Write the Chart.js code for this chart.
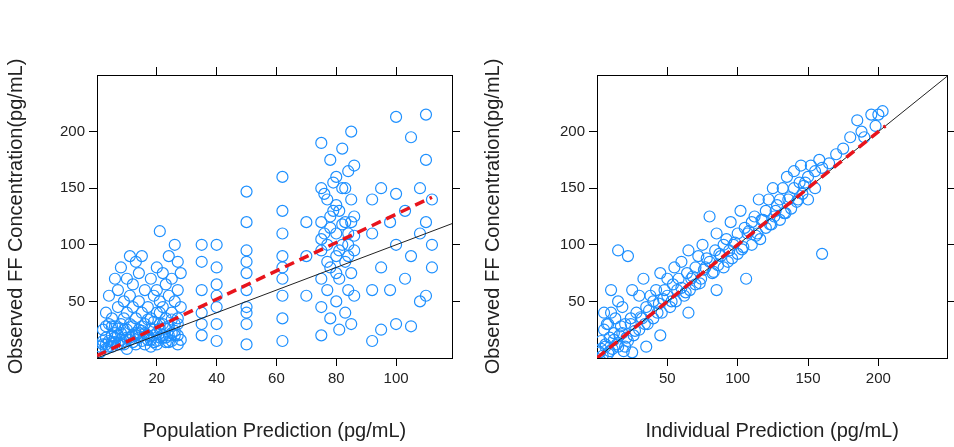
<!DOCTYPE html>
<html>
<head>
<script src="https://cdn.jsdelivr.net/npm/chart.js@4"></script>
<style>
  body { margin: 0; background: #fff; }
  .wrap { display: flex; width: 954px; height: 447px; }
  .box { width: 477px; height: 447px; position: relative; }
</style>
</head>
<body>
<div class="wrap">
  <div class="box"><canvas id="popChart"></canvas></div>
  <div class="box"><canvas id="indChart"></canvas></div>
</div>
<script>
// left panel: population prediction vs observed
const popPred = [1,2,2,3,3,4,4,5,5,5,6,6,6,7,7,7,8,8,8,9,9,9,10,10,10,10,
  11,11,11,12,12,12,13,13,13,14,14,14,15,15,15,16,16,17,17,18,18,18,
  19,19,20,20,20,20,21,21,21,22,22,22,23,23,24,24,24,25,25,25,26,26,26,27,27,27,28,28,
  3,4,6,8,12,14,16,18,20,22,24,26,19,21,23,27,
  2,3,5,7,9,11,13,15,17,19,21,23,25,27,4,6,8,10,12,14,16,18,20,22,24,26,28,
  1,3,5,7,9,11,13,15,17,19,21,23,25,27,
  35,35,35,35,35,35,40,40,40,40,40,40,40,
  50,50,50,50,50,50,50,50,50,50,62,62,62,62,62,62,62,62,62,70,70,70,
  75,75,75,75,75,75,75,77,77,77,78,78,78,78,80,80,80,80,81,81,81,82,82,82,83,83,83,84,84,84,85,85,85,85,86,86,86,86,76,79,84,80,
  75,76,77,78,79,80,81,82,83,84,85,86,
  92,92,92,92,95,95,95,98,98,100,100,100,100,103,103,105,105,105,108,108,108,110,110,110,110,112,112,112];
const popObs = [5,12,25,8,40,15,55,20,10,35,70,18,28,12,45,60,22,30,80,15,50,35,25,70,8,40,
  90,30,55,20,65,45,85,35,12,75,25,50,40,90,15,60,30,45,20,35,70,10,
  55,25,80,40,15,60,112,30,50,75,20,45,65,35,90,28,55,40,70,15,100,50,30,85,60,20,45,75,
  18,30,22,16,28,18,22,26,22,30,20,24,32,18,26,35,
  15,28,14,20,25,18,22,28,16,20,26,14,22,30,10,14,12,18,14,22,12,16,12,18,14,20,16,
  10,12,28,26,12,16,20,24,34,14,40,18,34,12,
  20,40,60,85,100,30,15,30,45,65,80,100,55,
  12,30,45,60,75,95,120,147,85,40,15,35,55,70,90,110,130,160,80,55,90,120,
  20,45,70,95,120,150,190,60,100,140,35,80,125,175,50,90,110,160,25,70,130,100,150,185,40,85,120,60,110,165,30,75,140,200,55,95,125,170,110,130,90,75,
  105,145,85,115,155,135,95,118,150,100,120,108,
  15,60,110,140,25,80,150,60,120,30,100,145,213,70,130,28,90,195,50,110,150,55,120,175,215,140,100,80];
const popFit = [2, 142];   // red smooth at x = 0 and x = 112

// right panel: individual prediction vs observed
const indPred = [2,3,4,5,6,7,8,9,10,11,12,13,14,15,16,17,18,19,20,22,22,24,25,26,28,30,30,32,33,35,36,38,40,40,42,44,45,46,48,50,50,52,54,55,56,58,60,60,62,64,65,66,68,70,70,72,74,75,76,78,80,80,82,84,85,86,88,90,90,92,94,95,96,98,100,100,102,104,105,106,108,110,110,112,114,115,116,118,120,120,122,124,125,126,128,130,130,132,134,135,136,138,140,140,142,144,145,146,148,150,150,152,155,155,158,160,160,165,170,175,180,185,188,190,195,198,200,203,5,10,15,20,25,8,35,45,65,85,
  3,6,9,12,15,18,21,24,27,31,34,37,43,47,53,57,63,67,73,77,83,87,93,97,103,107,113,117,123,127,133,137,143,147];
const indObs = [5,15,2,25,10,30,4,18,40,8,22,35,12,50,20,28,45,6,30,90,15,35,60,20,40,25,55,35,70,45,30,55,50,35,60,48,75,40,60,55,70,45,65,80,50,70,62,85,55,75,95,60,72,80,65,90,70,100,78,88,85,125,75,95,110,82,90,100,80,105,95,120,88,102,110,92,130,98,115,70,112,120,100,125,110,140,105,122,130,115,140,118,150,125,135,140,122,150,128,160,140,132,150,165,138,155,170,145,155,160,140,170,165,150,175,92,168,172,180,185,195,210,200,195,215,205,215,218,40,60,95,10,5,30,10,20,40,60,
  8,12,6,16,10,22,18,30,24,36,30,42,40,52,50,60,58,70,66,80,76,92,85,100,96,110,108,122,118,130,128,142,140,152];
const indFit = [0, 205];

const blue = 'rgb(30,144,255)';

function toPts(xs, ys) { return xs.map((x, i) => ({x: x, y: ys[i]})); }

function axes(xTitle, xTicks, leftW, rightW) {
  const tickGrid = { display: true, drawOnChartArea: false, drawTicks: true, tickLength: 8, color: '#000' };
  const border = { display: true, color: '#000', width: 1 };
  const font = { family: 'Liberation Sans, Arial', size: 15 };
  const titleFont = { family: 'Liberation Sans, Arial', size: 20 };
  return {
    x: { type: 'linear', min: 0, max: xTicks.max, border: border, grid: tickGrid,
      afterBuildTicks: s => { s.ticks = xTicks.vals.map(v => ({value: v})); },
      ticks: { color: '#222', font: font, padding: 4 },
      title: { display: true, text: xTitle, color: '#222', font: titleFont, padding: { top: 16 } },
      afterFit: s => { s.height = 89; } },
    x2: { type: 'linear', position: 'top', min: 0, max: xTicks.max, border: border, grid: tickGrid,
      afterBuildTicks: s => { s.ticks = xTicks.vals.map(v => ({value: v})); },
      ticks: { display: false }, afterFit: s => { s.height = 75; } },
    y: { type: 'linear', min: 0, max: 250, border: border, grid: tickGrid,
      afterBuildTicks: s => { s.ticks = [50,100,150,200].map(v => ({value: v})); },
      ticks: { color: '#222', font: font, padding: 4 },
      title: { display: true, text: 'Observed FF Concentration(pg/mL)', color: '#222', font: titleFont, padding: { bottom: 12 } },
      afterFit: s => { s.width = leftW; } },
    y2: { type: 'linear', position: 'right', min: 0, max: 250, border: border, grid: tickGrid,
      afterBuildTicks: s => { s.ticks = [50,100,150,200].map(v => ({value: v})); },
      ticks: { display: false }, afterFit: s => { s.width = rightW; } }
  };
}

function makeChart(id, xs, ys, fit, fitEnd, xTitle, xTicks, leftW, rightW) {
  new Chart(document.getElementById(id), {
    type: 'scatter',
    data: {
      datasets: [
        { data: toPts(xs, ys), borderColor: blue, backgroundColor: 'rgba(0,0,0,0)', borderWidth: 1.2, pointRadius: 5.5, order: 3 },
        { type: 'line', data: [{x: 0, y: 0}, {x: 250, y: 250}], borderColor: '#222', borderWidth: 1, pointRadius: 0, order: 2 },
        { type: 'line', data: [{x: 0, y: fit[0]}, {x: fitEnd, y: fit[1]}], borderColor: '#e8141c', borderWidth: 3.5, borderDash: [10, 6], pointRadius: 0, order: 1 }
      ]
    },
    options: {
      responsive: true, maintainAspectRatio: false, animation: false,
      plugins: { legend: { display: false }, tooltip: { enabled: false } },
      scales: axes(xTitle, xTicks, leftW, rightW)
    }
  });
}

makeChart('popChart', popPred, popObs, popFit, 112, 'Population Prediction (pg/mL)', { max: 118.7, vals: [20,40,60,80,100] }, 97, 25);
makeChart('indChart', indPred, indObs, indFit, 205, 'Individual Prediction (pg/mL)', { max: 249, vals: [50,100,150,200] }, 120, 2);
</script>
</body>
</html>
